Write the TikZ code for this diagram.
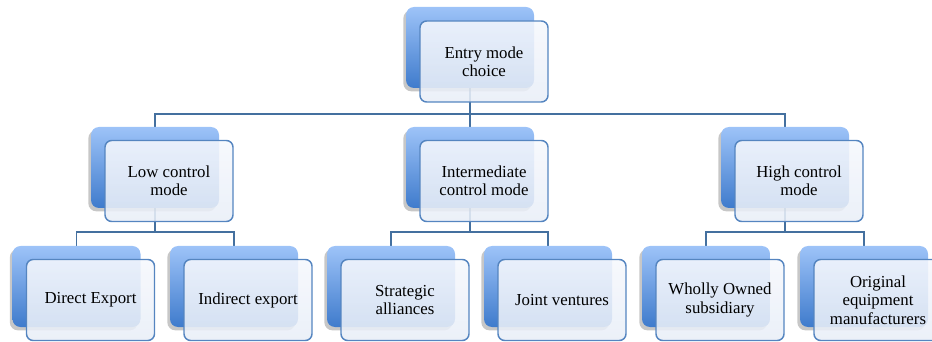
\documentclass[tikz,border=0pt]{standalone}
\usepackage{fontspec}
\setmainfont{Liberation Serif}
\usetikzlibrary{shadows}
\definecolor{backtop}{HTML}{9DC3F8}
\definecolor{backbot}{HTML}{3F7BCC}
\definecolor{frontedge}{HTML}{5585C0}
\definecolor{fronttop}{HTML}{F6F8FD}
\definecolor{frontbot}{HTML}{E8EEF7}
\definecolor{linec}{HTML}{44709F}
\pgfdeclarelayer{bg}
\pgfsetlayers{bg,main}
\begin{document}
\begin{tikzpicture}[x=0.75pt,y=-0.75pt,
  backbox/.style={rectangle, rounded corners=6pt, minimum width=96pt, minimum height=60.75pt,
    top color=backtop, bottom color=backbot, draw=none,
    drop shadow={shadow xshift=-2pt, shadow yshift=-2.5pt, fill=black, opacity=0.22}},
  frontbox/.style={rectangle, rounded corners=5pt, minimum width=96pt, minimum height=60.75pt,
    draw=frontedge, line width=1.1pt, top color=fronttop, bottom color=frontbot,
    fill opacity=0.88, text opacity=1, align=center, inner sep=2pt,
    font=\fontsize{12.6}{13.8}\selectfont},
  conn/.style={draw=linec, line width=1.1pt}]
\useasboundingbox (0,0) rectangle (932,342);
\clip (0,0) rectangle (932,342);
\coordinate (bus0) at (0,114);
\coordinate (bus1) at (0,232);
% level 1
\node[backbox] (b0) at (470,47.5) {};
\node[frontbox] (f0) at (484,61.5) {Entry mode\\choice};
% level 2
\node[backbox] (b1) at (155,167.5) {};
\node[frontbox] (f1) at (169,181) {Low control\\mode};
\node[backbox] (b2) at (470,167.5) {};
\node[frontbox] (f2) at (484,181) {Intermediate\\control mode};
\node[backbox] (b3) at (785,167.5) {};
\node[frontbox] (f3) at (799,181) {High control\\mode};
% level 3
\node[backbox] (c1) at (76.5,286.5) {};
\node[frontbox] (g1) at (90.5,300) {Direct Export};
\node[backbox] (c2) at (234,286.5) {};
\node[frontbox] (g2) at (248,300) {Indirect export};
\node[backbox] (c3) at (391,286.5) {};
\node[frontbox] (g3) at (405,300) {Strategic\\alliances};
\node[backbox] (c4) at (548,286.5) {};
\node[frontbox] (g4) at (562,300) {Joint ventures};
\node[backbox] (c5) at (706,286.5) {};
\node[frontbox] (g5) at (720,300) {Wholly Owned\\subsidiary};
\node[backbox] (c6) at (864,286.5) {};
\node[frontbox] (g6) at (878,300) {Original\\equipment\\manufacturers};
\begin{pgfonlayer}{bg}
\draw[conn] (b0.center) -- (b0.center |- bus0) -| (b1.north);
\draw[conn] (b0.center) -- (b2.north);
\draw[conn] (b0.center) -- (b0.center |- bus0) -| (b3.north);
\draw[conn] (b1.center) -- (b1.center |- bus1) -| (c1.north);
\draw[conn] (b1.center) -- (b1.center |- bus1) -| (c2.north);
\draw[conn] (b2.center) -- (b2.center |- bus1) -| (c3.north);
\draw[conn] (b2.center) -- (b2.center |- bus1) -| (c4.north);
\draw[conn] (b3.center) -- (b3.center |- bus1) -| (c5.north);
\draw[conn] (b3.center) -- (b3.center |- bus1) -| (c6.north);
\end{pgfonlayer}
\end{tikzpicture}
\end{document}
